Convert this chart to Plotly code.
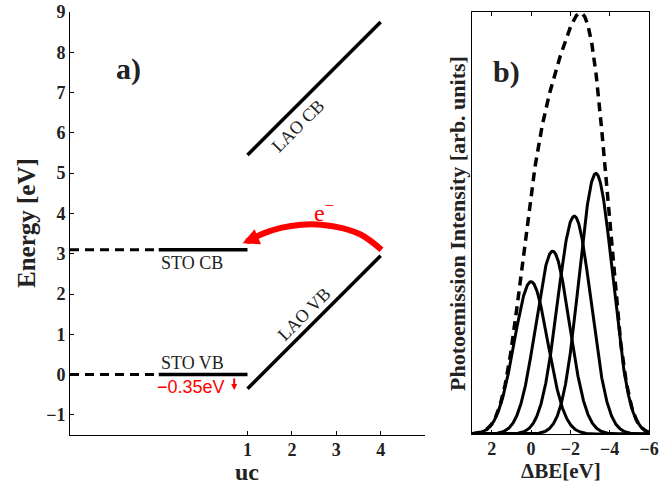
import numpy as np
import plotly.graph_objects as go

# ---------------- panel a) data ----------------
uc_ticks = [1, 2, 3, 4]
energy_ticks = [-1, 0, 1, 2, 3, 4, 5, 6, 7, 8, 9]
sto_cb = 3.1
sto_vb = 0.0
sto_dash_x = [-3, -1]
sto_solid_x = [-1, 1]
lao_x = [1, 4]
lao_cb = [5.45, 8.75]
lao_vb = [-0.35, 2.95]
arrow_x = [4.02, 3.56, 3.11, 2.66, 2.21, 1.75, 1.38, 1.15]
arrow_y = [3.10, 3.47, 3.64, 3.72, 3.72, 3.64, 3.51, 3.40]
arrow_tip = (0.89, 3.26)
arrow_tail = (1.25, 3.43)
shift_arrow_x = 0.70
shift_arrow_y = [-0.06, -0.38]

# ---------------- panel b) data ----------------
be_ticks = [2, 0, -2, -4, -6]
peak_centers = [0.0, -1.1, -2.2, -3.3]
peak_heights = [1.00, 1.20, 1.43, 1.71]
peak_sigma = 0.85

SERIF = "Liberation Serif, Times New Roman, serif"
SANS = "Liberation Sans, Arial, sans-serif"
W, H = 663, 485

fig = go.Figure()

for lev in (sto_cb, sto_vb):
    fig.add_trace(go.Scatter(x=sto_dash_x, y=[lev, lev], mode="lines",
                             line=dict(color="black", width=3, dash="9px,6px"),
                             xaxis="x", yaxis="y", showlegend=False, hoverinfo="skip"))
    fig.add_trace(go.Scatter(x=sto_solid_x, y=[lev, lev], mode="lines",
                             line=dict(color="black", width=3.5),
                             xaxis="x", yaxis="y", showlegend=False, hoverinfo="skip"))
for band in (lao_cb, lao_vb):
    fig.add_trace(go.Scatter(x=lao_x, y=band, mode="lines",
                             line=dict(color="black", width=3.5),
                             xaxis="x", yaxis="y", showlegend=False, hoverinfo="skip"))
fig.add_trace(go.Scatter(x=arrow_x, y=arrow_y, mode="lines",
                         line=dict(color="red", width=6, shape="spline"),
                         xaxis="x", yaxis="y", showlegend=False, hoverinfo="skip"))

xg = np.linspace(3, -6, 600)
total = np.zeros_like(xg)
for c, h in zip(peak_centers, peak_heights):
    g = h * np.exp(-(xg - c) ** 2 / (2 * peak_sigma ** 2))
    total += g
    fig.add_trace(go.Scatter(x=xg, y=g, mode="lines",
                             line=dict(color="black", width=3),
                             xaxis="x2", yaxis="y2", showlegend=False, hoverinfo="skip"))
fig.add_trace(go.Scatter(x=xg, y=total, mode="lines",
                         line=dict(color="black", width=3.5, dash="9px,6px"),
                         xaxis="x2", yaxis="y2", showlegend=False, hoverinfo="skip"))

tickfont = dict(family=SERIF, size=18, color="#222", weight="bold")
ax_common = dict(showgrid=False, zeroline=False, showline=True, linecolor="black",
                 linewidth=1, ticks="inside", ticklen=4, tickcolor="black", tickfont=tickfont,
                 automargin=False)

ymax_b = float(total.max()) * 1.002

fig.update_layout(
    width=W, height=H, autosize=False,
    margin=dict(l=0, r=0, t=0, b=0, pad=0, autoexpand=False),
    paper_bgcolor="white", plot_bgcolor="white", showlegend=False,
    xaxis=dict(domain=[70 / W, 425 / W], range=[-3, 5], tickvals=uc_ticks,
               anchor="y", ticklabelstandoff=-2, **ax_common),
    yaxis=dict(domain=[1 - 435 / H, 1 - 12 / H], range=[-1.5, 9], tickvals=energy_ticks,
               anchor="x", **ax_common),
    xaxis2=dict(domain=[472 / W, 649 / W], range=[3, -6], tickvals=be_ticks,
                anchor="y2", mirror="allticks", ticklabelstandoff=-2, **ax_common),
    yaxis2=dict(domain=[1 - 434 / H, 1 - 12 / H], range=[0, ymax_b], anchor="x2",
                showgrid=False, zeroline=False, showline=True, linecolor="black",
                linewidth=1, mirror=True, ticks="", showticklabels=False, automargin=False),
)

def txt(text, x, y, size, ref="paper", weight="normal", family=SERIF, color="#222",
        angle=0, xanchor="center"):
    if ref == "paper":
        x, y, xr, yr = x / W, 1 - y / H, "paper", "paper"
    else:
        xr, yr = ref
    return dict(text=text, x=x, y=y, xref=xr, yref=yr, xanchor=xanchor, yanchor="middle",
                textangle=angle, showarrow=False,
                font=dict(family=family, size=size, color=color, weight=weight))

ann = [
    txt("Energy [eV]", 27, 223, 25, weight="bold", angle=-90),
    txt("uc", 247, 472, 24, weight="bold"),
    txt("Photoemission Intensity [arb. units]", 457, 224, 22, weight="bold", angle=-90),
    txt("\u0394BE[eV]", 561, 471, 21, weight="bold"),
    txt("a)", -1.68, 7.59, 30, ref=("x", "y"), weight="bold"),
    txt("b)", 507, 72, 30, weight="bold"),
    txt("STO CB", -1, 2.77, 18, ref=("x", "y"), xanchor="left"),
    txt("STO VB", -1, 0.29, 18, ref=("x", "y"), xanchor="left"),
    txt("LAO CB", 2.13, 6.18, 18, ref=("x", "y"), angle=-45),
    txt("LAO VB", 2.28, 1.50, 18, ref=("x", "y"), angle=-45),
    txt("e<sup>\u2212</sup>", 2.72, 4.05, 24, ref=("x", "y"), color="red"),
    txt("\u22120.35eV", -0.27, -0.32, 18, ref=("x", "y"), family=SANS, color="red"),
]
ann.append(dict(text="", x=arrow_tip[0], y=arrow_tip[1], ax=arrow_tail[0], ay=arrow_tail[1],
                xref="x", yref="y", axref="x", ayref="y", showarrow=True,
                arrowhead=2, arrowwidth=6, arrowsize=0.55, arrowcolor="red"))
ann.append(dict(text="", x=shift_arrow_x, y=shift_arrow_y[1], ax=shift_arrow_x,
                ay=shift_arrow_y[0], xref="x", yref="y", axref="x", ayref="y",
                showarrow=True, arrowhead=2, arrowwidth=2, arrowsize=0.6, arrowcolor="red"))
fig.update_layout(annotations=ann)

fig.write_html("out.html")
